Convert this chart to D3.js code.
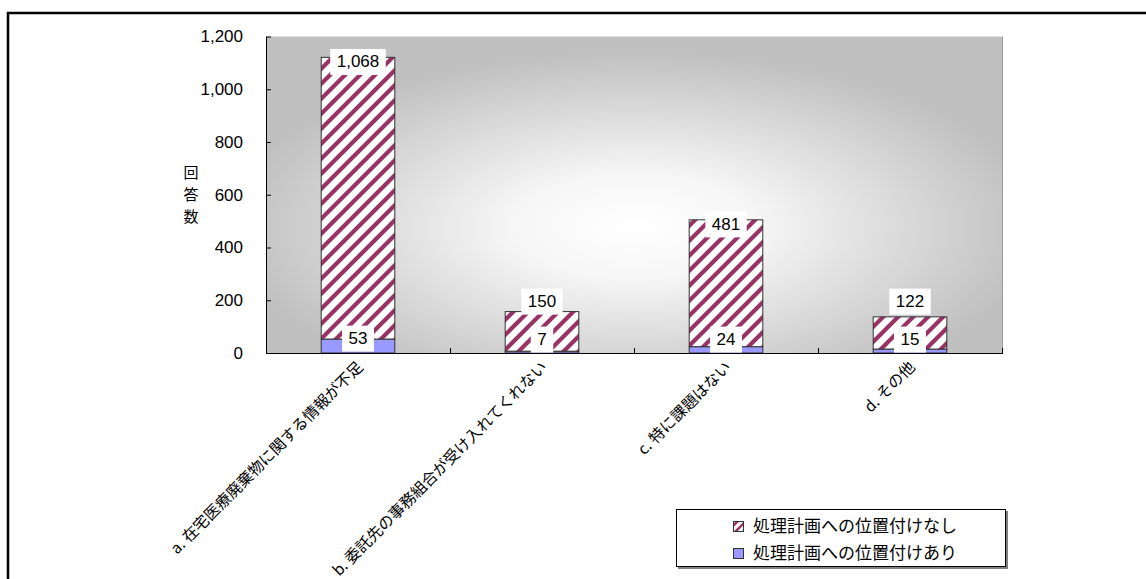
<!DOCTYPE html>
<html lang="ja">
<head>
<meta charset="utf-8">
<script src="https://cdn.jsdelivr.net/npm/d3@7/dist/d3.min.js"></script>
<style>
  html, body { margin: 0; padding: 0; background: #fff; }
  svg { display: block; }
  .num { font-family: "Liberation Sans", Arial, sans-serif; font-size: 17px; fill: #000; }
  .jp { font-family: "Noto Sans CJK JP", sans-serif; fill: #000; }
</style>
</head>
<body>
<svg id="chart" width="1146" height="579"></svg>
<script>
// Survey answers, split by whether the item is placed in the disposal plan
const categories = [
  "a. 在宅医療廃棄物に関する情報が不足",
  "b. 委託先の事務組合が受け入れてくれない",
  "c. 特に課題はない",
  "d. その他"
];
const withPlan = [53, 7, 24, 15];          // 処理計画への位置付けあり
const withoutPlan = [1068, 150, 481, 122]; // 処理計画への位置付けなし
const seriesNames = ["処理計画への位置付けなし", "処理計画への位置付けあり"];
const yTicks = [0, 200, 400, 600, 800, 1000, 1200];
const yTitle = ["回", "答", "数"];

const svg = d3.select("#chart");
const plot = { left: 266, right: 1002, top: 36.5, bottom: 353 };

const x = d3.scaleBand()
  .domain(categories)
  .range([plot.left, plot.right])
  .paddingInner(0.6)
  .paddingOuter(0.3);
const y = d3.scaleLinear().domain([0, 1200]).range([plot.bottom, plot.top]);

const defs = svg.append("defs");

// background fill of the plot area: light centre fading to grey
const bg = defs.append("radialGradient")
  .attr("id", "plotBg")
  .attr("cx", "0.5").attr("cy", "0.6").attr("r", "0.55");
bg.append("stop").attr("offset", "0").attr("stop-color", "#ffffff");
bg.append("stop").attr("offset", "0.3").attr("stop-color", "#f6f6f6");
bg.append("stop").attr("offset", "1").attr("stop-color", "#c0c0c0");

// wide upward diagonal hatch ("/" stripes)
function addHatch(id, w, sw) {
  const p = defs.append("pattern")
    .attr("id", id)
    .attr("patternUnits", "userSpaceOnUse")
    .attr("width", w).attr("height", w);
  p.append("rect").attr("width", w).attr("height", w).attr("fill", "#ffffff");
  p.append("path")
    .attr("d", `M${-w / 2},${w / 2} L${w / 2},${-w / 2} M0,${w} L${w},0 M${w / 2},${1.5 * w} L${1.5 * w},${w / 2}`)
    .attr("stroke", "#993366")
    .attr("stroke-width", sw);
}
addHatch("hatch", 15, 4.2);
addHatch("hatchSmall", 8, 2.4);

// outer frame (top and left edges visible)
svg.append("path")
  .attr("d", "M8,579 L8,13 L1146,13")
  .attr("fill", "none").attr("stroke", "#000").attr("stroke-width", 2.5);

// plot area
svg.append("rect")
  .attr("x", plot.left).attr("y", plot.top)
  .attr("width", plot.right - plot.left).attr("height", plot.bottom - plot.top)
  .attr("fill", "url(#plotBg)");
svg.append("line")
  .attr("x1", plot.right + 0.5).attr("x2", plot.right + 0.5)
  .attr("y1", plot.top).attr("y2", plot.bottom)
  .attr("stroke", "#9a9a9a").attr("stroke-width", 1);

// stacked bars
const stackData = categories.map((c, i) => ({ cat: c, lo: withPlan[i], hi: withoutPlan[i] }));
const stack = d3.stack().keys(["lo", "hi"])(stackData);
const fills = { lo: "#9999ff", hi: "url(#hatch)" };

svg.append("g").selectAll("g")
  .data(stack)
  .join("g")
  .attr("fill", d => fills[d.key])
  .selectAll("rect")
  .data(d => d)
  .join("rect")
  .attr("x", d => x(d.data.cat))
  .attr("width", x.bandwidth())
  .attr("y", d => y(d[1]))
  .attr("height", d => y(d[0]) - y(d[1]))
  .attr("stroke", "#333")
  .attr("stroke-width", 1);

// axes
const yAxis = d3.axisLeft(y)
  .tickValues(yTicks)
  .tickFormat(d3.format(","))
  .tickSizeInner(-5).tickSizeOuter(0).tickPadding(23);
const gy = svg.append("g").attr("transform", `translate(${plot.left},0)`).call(yAxis);
gy.select(".domain").attr("stroke", "#000");
gy.selectAll(".tick line").attr("stroke", "#000");
gy.selectAll(".tick text").attr("class", "num");
gy.attr("font-size", null).attr("font-family", null);

const gx = svg.append("g");
gx.append("line")
  .attr("x1", plot.left).attr("x2", plot.right + 1)
  .attr("y1", plot.bottom + 0.5).attr("y2", plot.bottom + 0.5)
  .attr("stroke", "#000");
const step = x.step();
const bounds = d3.range(categories.length + 1).map(i => plot.left + i * step);
gx.selectAll("line.tk")
  .data(bounds)
  .join("line")
  .attr("class", "tk")
  .attr("x1", d => d + 0.5).attr("x2", d => d + 0.5)
  .attr("y1", plot.bottom - 5).attr("y2", plot.bottom)
  .attr("stroke", "#000");

// category labels, rotated
gx.selectAll("text.cat")
  .data(categories)
  .join("text")
  .attr("class", "cat jp")
  .attr("font-size", 15.5)
  .attr("text-anchor", "end")
  .attr("transform", d => `translate(${x(d) + x.bandwidth() / 2 + 6},${plot.bottom + 15}) rotate(-45)`)
  .text(d => d);

// y axis title, stacked characters
svg.append("g").selectAll("text")
  .data(yTitle)
  .join("text")
  .attr("class", "jp")
  .attr("font-size", 15)
  .attr("text-anchor", "middle")
  .attr("x", 191)
  .attr("y", (d, i) => 178 + i * 22)
  .text(d => d);

// value labels on white boxes
const labels = [];
categories.forEach((c, i) => {
  const cx = x(c) + x.bandwidth() / 2;
  const loY = Math.min(y(withPlan[i]) - 1, plot.bottom - 14);
  const hiY = Math.min(y(withPlan[i] + withoutPlan[i]) + 4, loY - 38);
  labels.push({ cx, cy: loY, v: withPlan[i] });
  labels.push({ cx, cy: hiY, v: withoutPlan[i] });
});
const fmt = d3.format(",");
const lg = svg.append("g").selectAll("g")
  .data(labels)
  .join("g");
lg.append("text")
  .attr("class", "num")
  .attr("text-anchor", "middle")
  .attr("x", d => d.cx)
  .attr("y", d => d.cy)
  .attr("dy", "0.36em")
  .text(d => fmt(d.v));
lg.each(function () {
  const g = d3.select(this);
  const b = g.select("text").node().getBBox();
  g.insert("rect", "text")
    .attr("x", b.x - 6.5).attr("y", b.y + b.height / 2 - 13)
    .attr("width", b.width + 13).attr("height", 26)
    .attr("fill", "#fff");
});

// legend
const legend = svg.append("g").attr("transform", "translate(676,509)");
legend.append("rect")
  .attr("x", 2).attr("y", 2).attr("width", 330).attr("height", 58)
  .attr("fill", "#808080");
legend.append("rect")
  .attr("x", 0.5).attr("y", 0.5).attr("width", 329).attr("height", 57)
  .attr("fill", "#fff").attr("stroke", "#000");
const legendFills = ["url(#hatchSmall)", "#9999ff"];
const items = legend.selectAll("g.item")
  .data(seriesNames)
  .join("g")
  .attr("class", "item")
  .attr("transform", (d, i) => `translate(57,${17 + i * 27})`);
items.append("rect")
  .attr("x", 0.5).attr("y", -4.5).attr("width", 10).attr("height", 10)
  .attr("fill", (d, i) => legendFills[i])
  .attr("stroke", "#333");
items.append("text")
  .attr("class", "jp")
  .attr("font-size", 17)
  .attr("x", 20)
  .attr("y", 0)
  .attr("dy", "0.36em")
  .text(d => d);
</script>
</body>
</html>
